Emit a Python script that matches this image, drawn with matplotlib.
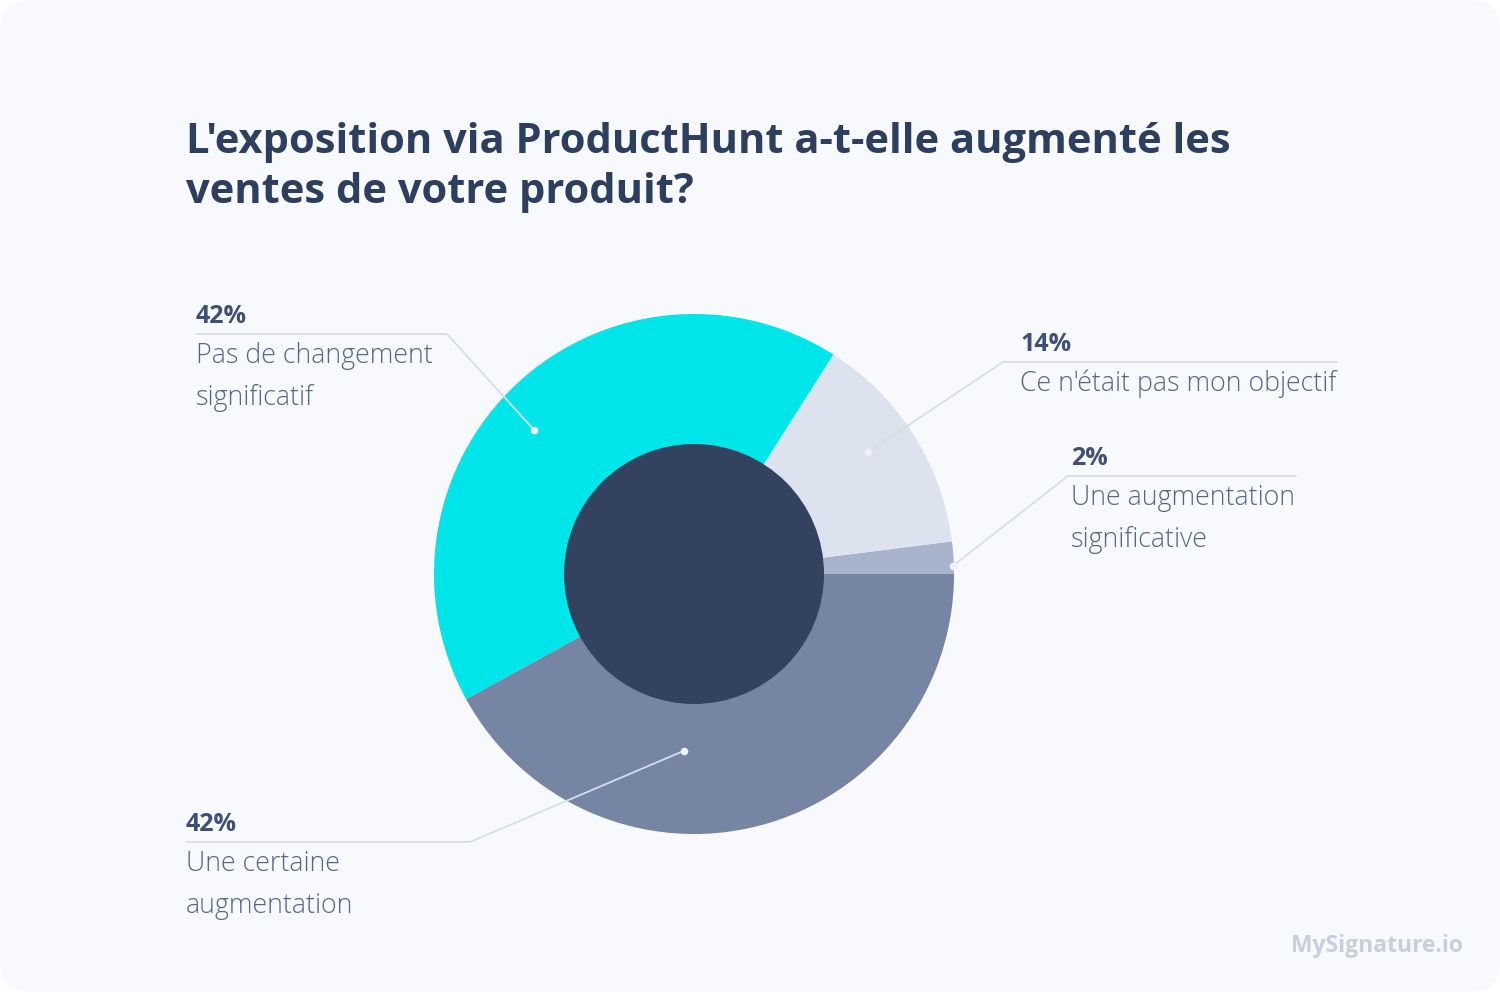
import numpy as np
import matplotlib.pyplot as plt
from matplotlib.patches import FancyBboxPatch, Circle

# data
categories = ["Une augmentation\nsignificative", "Ce n'était pas mon objectif",
              "Pas de changement\nsignificatif", "Une certaine\naugmentation"]
shares = [2, 14, 42, 42]
colors = ["#a7b3cb", "#dce3ee", "#00e5ea", "#7585a3"]

title_lines = ["L'exposition via ProductHunt a-t-elle augmenté les",
               "ventes de votre produit?"]

W, H = 1500, 992
fig = plt.figure(figsize=(W / 100, H / 100), dpi=100)
fig.patch.set_facecolor("white")
ax = fig.add_axes([0, 0, 1, 1])

# card background
ax.add_patch(FancyBboxPatch((0, 0), W, H, boxstyle="round,pad=0,rounding_size=30",
                            fc="#f7f9fc", ec="none", zorder=0))

cx, cy, R = 694, 574, 260
wedges, _ = ax.pie(shares, colors=colors, startangle=0, counterclock=False,
                   center=(cx, cy), radius=R, frame=True,
                   wedgeprops=dict(linewidth=0))
ax.set_xlim(0, W)
ax.set_ylim(H, 0)
ax.set_aspect("equal")
ax.axis("off")
ax.add_patch(Circle((cx, cy), 130, fc="#32425f", ec="none", zorder=5))

# leader layout: anchor (angle on screen, radius), elbow, line end, text x
layout = [
    (1.8, 259, (1068, 476), 1296, 1071),
    (35, 212, (1003, 362), 1337, 1020),
    (138, 215, (447, 334), 196, 196),
    (266.8, 177, (470, 842), 186, 186),
]
line_c = "#d6deea"
font = "Open Sans"
for (ang, r, elbow, xend, tx), cat, val in zip(layout, categories, shares):
    a = np.deg2rad(ang)
    px, py = cx + r * np.cos(a), cy - r * np.sin(a)
    ax.plot([px, elbow[0], xend], [py, elbow[1], elbow[1]], color=line_c, lw=1.3,
            zorder=6, solid_capstyle="round")
    ax.scatter([px], [py], s=30, color="#eef2f8", zorder=7, linewidths=0)
    ax.text(tx, elbow[1] - 11, f"{val}%", fontsize=18, fontweight="bold",
            color="#3d5078", family=font, ha="left", va="baseline", zorder=8)
    for i, line in enumerate(cat.split("\n")):
        ax.text(tx, elbow[1] + 29 + 42 * i, line, fontsize=19.3, fontweight="light",
                color="#53678c", family=font, ha="left", va="baseline", zorder=8)

for i, line in enumerate(title_lines):
    ax.text(186, 153 + 50 * i, line, fontsize=30, fontweight="bold",
            color="#2d3f5f", family=font, ha="left", va="baseline")

ax.text(1463, 952, "MySignature.io", fontsize=16.5, fontweight="bold", color="#c6cfde",
        family=font, ha="right", va="baseline")

fig.savefig("out.png", dpi=100, facecolor="white")
